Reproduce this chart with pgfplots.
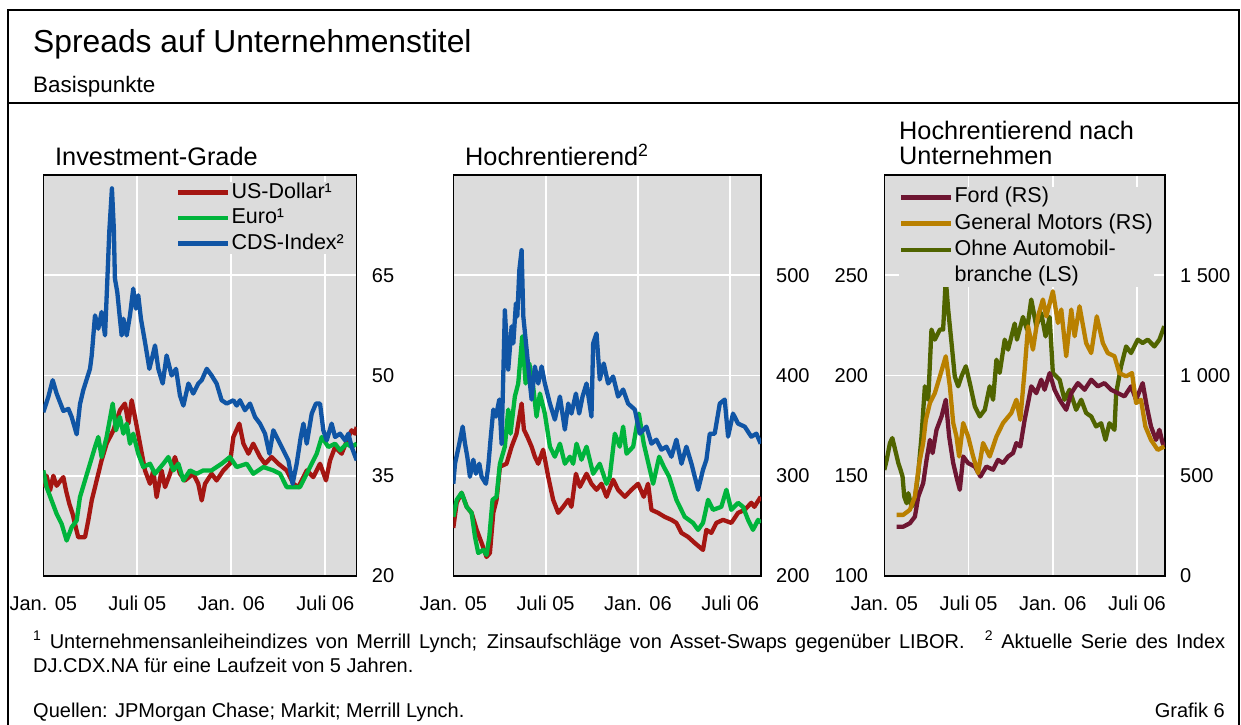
\documentclass[border=0pt]{standalone}
\usepackage{fontspec}
\setmainfont{Liberation Sans}
\usepackage{pgfplots}
\pgfplotsset{compat=1.18}

\definecolor{bisRed}{RGB}{165,22,18}
\definecolor{bisGreen}{RGB}{0,180,60}
\definecolor{bisBlue}{RGB}{16,85,165}
\definecolor{bisFord}{RGB}{110,22,50}
\definecolor{bisGM}{RGB}{185,128,0}
\definecolor{bisOlive}{RGB}{80,100,0}
\definecolor{panelGray}{RGB}{220,220,220}

% one panel: months since Jan. 2005 on x
\pgfplotsset{
  bispanel/.style={
    scale only axis, height=401pt, anchor=south west,
    xmin=0, xmax=20,
    xtick={0,6,12,18}, xticklabels={Jan. 05,Juli 05,Jan. 06,Juli 06},
    axis background/.style={fill=panelGray},
    grid=major, major grid style={white, line width=1.8pt},
    major tick length=0pt,
    axis line style={black, line width=1.2pt},
    tick label style={font=\fontsize{20}{24}\selectfont},
    xticklabel style={inner sep=0pt, anchor=north, yshift=-20pt},
    /pgf/number format/assume math mode=true,
    every axis plot/.append style={line width=4.3pt, line join=round, mark=none},
    legend cell align=left,
    legend image code/.code={\draw[##1, line width=4.5pt] (0pt,0pt) -- (50pt,0pt);},
    legend style={draw=none, fill=panelGray, anchor=north west, inner sep=0pt,
      font=\fontsize{21.5}{25}\selectfont,
      nodes={inner sep=1pt, text height=15pt, text depth=4pt}},
  },
  rightlabels/.style={yticklabel pos=right,
    yticklabel style={anchor=west, inner sep=0pt, xshift=15pt}},
}

\begin{document}
\begin{tikzpicture}
\path[use as bounding box] (0pt,0pt) rectangle (1241pt,724pt);

% frame
\draw[line width=2pt] (8pt,-5pt) -- (8pt,714pt) -- (1239pt,714pt) -- (1239pt,-5pt);
\draw[line width=2pt] (8pt,621pt) -- (1239pt,621pt);
\node[anchor=base west, inner sep=0pt, font=\fontsize{31.8}{38}\selectfont] at (33pt,671pt) {Spreads auf Unternehmenstitel};
\node[anchor=base west, inner sep=0pt, font=\fontsize{22.4}{26}\selectfont] at (33pt,631pt) {Basispunkte};

% panel titles
\begin{scope}[every node/.style={anchor=base west, inner sep=0pt, font=\fontsize{25.3}{30}\selectfont}]
\node at (55pt,558pt) {Investment-Grade};
\node at (465pt,558pt) {Hochrentierend\textsuperscript{2}};
\node at (899pt,584pt) {Hochrentierend nach};
\node at (899pt,559pt) {Unternehmen};
\end{scope}

% ---- Investment-Grade
\begin{axis}[bispanel, rightlabels, at={(43.3pt,148pt)}, width=313.4pt,
  ymin=20, ymax=80, ytick={20,35,50,65},
  legend style={at={(axis description cs:0.423,0.983)}, row sep=4.5pt}]
\addplot[bisRed] coordinates {
(0,33.3)(0.21,35)(0.43,32.8)(0.64,35)(0.85,33.5)(1.28,34.8)(1.45,32.8)(1.66,30.8)
(1.87,29.3)(2.02,27.8)(2.23,25.8)(2.66,25.8)(2.87,28.3)(3.09,31.3)(3.30,33.3)(3.51,35.3)
(3.72,37.3)(4.04,39.8)(4.47,41.8)(4.89,44.8)(5.21,45.8)(5.43,42.8)(5.64,46.3)(5.85,43.8)
(6.17,39.8)(6.49,35.8)(6.81,33.8)(7.02,35.8)(7.23,31.8)(7.55,35.8)(7.77,33.3)(8.09,35.3)
(8.40,37.8)(8.72,35.3)(9.04,34.3)(9.57,35.3)(9.89,33.8)(10.11,31.3)(10.32,33.8)(10.74,35.3)
(11.06,34.3)(11.49,35.8)(11.91,36.8)(12.13,40.8)(12.51,42.8)(12.77,39.8)(13.09,38.3)(13.40,39.8)
(13.83,37.8)(14.15,36.8)(14.57,37.8)(15.00,36.8)(15.53,35.8)(15.96,33.8)(16.28,33.3)(16.81,35.8)
(17.23,34.8)(17.66,36.8)(18.04,34.3)(18.30,37.3)(18.62,39.3)(19.04,38.3)(19.47,40.8)(19.68,41.8)
(19.89,41.3)(20.0,42.3)};
\addlegendentry{US-Dollar¹}
\addplot[bisGreen] coordinates {
(0,35.8)(0.21,33.3)(0.53,31.3)(0.85,29.3)(1.17,27.8)(1.49,25.3)(1.81,27.3)(2.13,28.3)
(2.34,31.8)(2.66,34.3)(2.98,36.8)(3.30,39.3)(3.51,40.8)(3.72,37.8)(4.04,40.8)(4.43,45.8)
(4.64,41.8)(4.89,43.8)(5.11,41.3)(5.32,42.8)(5.53,39.8)(5.74,41.3)(6.06,38.3)(6.38,36.3)
(6.81,36.8)(7.13,35.3)(7.66,36.8)(7.98,37.8)(8.30,35.8)(8.62,36.8)(8.94,34.3)(9.36,35.8)
(9.79,35.3)(10.21,35.8)(10.74,35.8)(11.38,36.8)(11.91,37.8)(12.34,36.3)(12.98,36.8)(13.40,35.3)
(14.04,36.3)(14.68,35.8)(15.11,35.3)(15.53,33.3)(16.38,33.3)(16.81,35.3)(17.13,36.8)(17.45,38.3)
(17.77,40.8)(18.19,39.3)(18.62,39.8)(18.94,38.8)(19.36,39.8)(19.68,39.3)(20.0,39.8)};
\addlegendentry{Euro¹}
\addplot[bisBlue] coordinates {
(0,44.5)(0.32,46.8)(0.60,49.3)(0.85,47.3)(1.28,44.7)(1.60,45)(1.81,43.8)(2.13,41.2)
(2.34,45.7)(2.55,47.8)(2.98,51)(3.09,53)(3.30,59)(3.51,57)(3.72,59.5)(3.94,56)
(4.09,64.5)(4.21,71.5)(4.38,78)(4.50,72)(4.57,64.5)(4.72,62.5)(4.89,58.5)(5.00,56)
(5.11,58.5)(5.32,56)(5.53,59)(5.74,63)(5.91,60)(6.06,62)(6.23,58.5)(6.49,55)
(6.77,51)(6.98,53)(7.13,54.5)(7.34,51)(7.62,48.8)(7.87,53)(8.19,50)(8.47,51)
(8.72,47)(8.94,45.5)(9.26,48.8)(9.57,47.3)(9.89,48.8)(10.11,49.3)(10.43,51)(10.74,50)
(11.06,48.8)(11.38,46.3)(11.70,45.8)(12.13,46.3)(12.34,45.5)(12.55,46.3)(12.87,44.8)(13.19,45.8)
(13.51,43.8)(13.83,42.8)(14.15,41.3)(14.43,38.3)(14.68,41.8)(15.00,40.3)(15.32,38.8)(15.64,37.3)
(15.91,33.8)(16.17,36.8)(16.43,40.8)(16.60,42.8)(16.81,39.8)(17.13,44.3)(17.40,45.8)(17.66,45.8)
(17.87,41.8)(18.09,40.3)(18.40,42.8)(18.62,40.8)(18.94,41.3)(19.26,40.3)(19.47,41.3)(19.68,39.3)
(20.0,37.3)};
\addlegendentry{CDS-Index²}
\end{axis}

% ---- Hochrentierend
\begin{axis}[bispanel, rightlabels, at={(453.3pt,148pt)}, width=307.7pt,
  ymin=200, ymax=600, ytick={200,300,400,500}]
\addplot[bisRed] coordinates {
(0,248)(0.22,273)(0.54,283)(0.87,269)(1.19,263)(1.52,246)(1.84,233)(2.16,219)
(2.38,223)(2.60,263)(2.81,276)(3.03,309)(3.46,312)(3.79,329)(4.11,342)(4.44,372)
(4.59,346)(4.81,339)(5.09,329)(5.30,319)(5.52,312)(5.84,326)(6.17,299)(6.49,276)
(6.82,263)(7.14,269)(7.47,276)(7.68,269)(7.97,302)(8.23,289)(8.66,302)(8.98,292)
(9.31,286)(9.63,292)(9.96,279)(10.39,296)(10.71,286)(11.15,279)(11.58,286)(12.01,292)
(12.38,279)(12.66,292)(12.88,266)(13.31,263)(13.74,259)(14.18,256)(14.50,253)(14.83,243)
(15.26,239)(15.69,233)(16.23,226)(16.45,246)(16.77,243)(17.10,253)(17.53,256)(18.07,253)
(18.51,263)(18.94,266)(19.37,273)(19.57,269)(19.98,279)};
\addplot[bisGreen] coordinates {
(0,259)(0.22,276)(0.54,283)(0.87,269)(1.19,263)(1.41,239)(1.62,223)(1.95,226)
(2.16,221)(2.34,239)(2.55,276)(2.81,279)(3.03,312)(3.35,329)(3.57,366)(3.72,342)
(4.00,379)(4.22,392)(4.48,439)(4.70,392)(4.94,412)(5.19,389)(5.41,359)(5.63,382)
(5.95,362)(6.28,329)(6.60,319)(6.93,332)(7.25,312)(7.58,319)(7.79,312)(8.01,332)
(8.33,316)(8.66,329)(9.09,302)(9.52,312)(9.96,292)(10.17,299)(10.50,342)(10.82,329)
(11.04,349)(11.26,322)(11.69,329)(12.06,362)(12.38,332)(12.99,292)(13.38,319)(13.68,309)
(14.03,299)(14.50,276)(15.04,259)(15.58,253)(15.91,246)(16.23,253)(16.56,276)(16.88,266)
(17.42,269)(17.75,286)(18.07,266)(18.51,273)(18.83,269)(19.16,256)(19.48,246)(19.81,256)
(19.98,253)};
\addplot[bisBlue] coordinates {
(0,292)(0.11,312)(0.39,332)(0.61,349)(0.76,332)(0.91,319)(1.08,299)(1.30,316)
(1.47,302)(1.69,312)(1.84,299)(2.12,292)(2.27,309)(2.42,336)(2.60,366)(2.77,359)
(2.99,376)(3.14,332)(3.35,465)(3.57,406)(3.79,449)(3.90,432)(4.07,472)(4.16,459)
(4.29,505)(4.44,525)(4.55,459)(4.81,419)(4.98,392)(5.09,376)(5.30,409)(5.52,392)
(5.74,409)(5.95,392)(6.28,372)(6.60,356)(6.93,379)(7.25,346)(7.47,372)(7.68,362)
(7.97,382)(8.18,362)(8.40,379)(8.66,392)(8.98,359)(9.09,432)(9.31,442)(9.52,396)
(9.78,412)(10.06,392)(10.39,399)(10.71,379)(11.04,386)(11.36,372)(11.80,366)(12.12,342)
(12.55,349)(12.88,332)(13.20,336)(13.53,326)(13.85,329)(14.18,319)(14.50,336)(14.83,312)
(15.15,329)(15.48,312)(15.91,286)(16.23,306)(16.45,316)(16.67,342)(16.99,342)(17.32,372)
(17.64,376)(17.86,339)(18.18,362)(18.51,352)(18.94,349)(19.37,339)(19.70,342)(19.98,332)};
\end{axis}

% ---- Hochrentierend nach Unternehmen, left scale
\begin{axis}[bispanel, at={(884.3pt,148pt)}, width=280.7pt,
  ymin=100, ymax=300, ytick={100,150,200,250},
  yticklabel style={anchor=east, inner sep=0pt, xshift=-16pt}]
\addplot[bisOlive] coordinates {
(0,152.9)(0.17,157.9)(0.40,166.3)(0.57,168.8)(0.83,161.3)(1.00,156.3)(1.16,152.9)(1.30,149.6)
(1.42,139.6)(1.59,136.3)(1.71,141.3)(1.94,134.6)(2.13,136.3)(2.42,151.3)(2.65,169.6)(2.89,194.6)
(3.13,187.9)(3.36,222.9)(3.60,217.9)(3.96,222.9)(4.19,222.9)(4.38,248)(4.55,232.9)(4.79,216.2)
(5.02,199.6)(5.26,194.6)(5.50,199.6)(5.81,204.6)(6.09,196.3)(6.45,184.6)(6.80,179.6)(7.16,182.9)
(7.51,194.6)(7.75,187.9)(7.99,207.9)(8.22,201.3)(8.58,217.9)(8.82,212.9)(9.29,225.9)(9.45,217.9)
(9.88,229.2)(10.17,222.9)(10.47,237.9)(10.83,224.6)(11.18,231.2)(11.49,219.5)(11.78,229.2)(12.01,201.2)
(12.49,197.9)(12.84,187.9)(13.20,192.9)(13.67,182.9)(14.03,187.9)(14.38,181.3)(14.74,179.6)(15.09,174.6)
(15.45,176.2)(15.76,167.9)(16.04,176.2)(16.40,172.9)(16.52,191.2)(16.87,204.6)(17.23,214.5)(17.58,211.2)
(18.06,217.9)(18.41,216.2)(18.77,217.9)(19.24,214.5)(19.60,217.9)(19.95,224.6)};
\end{axis}

% ---- right scale
\begin{axis}[bispanel, rightlabels, at={(884.3pt,148pt)}, width=280.7pt,
  axis background/.style={}, grid=none, xtick=\empty,
  ymin=0, ymax=2000, ytick={0,500,1000,1500}, yticklabels={0,500,1 000,1 500},
  legend style={at={(axis description cs:0.052,0.971)}, row sep=5.3pt}]
\addplot[bisFord] coordinates {
(0.88,246)(1.35,246)(1.82,263)(2.18,296)(2.42,396)(2.77,463)(3.01,579)(3.25,679)
(3.44,613)(3.72,729)(4.08,796)(4.38,879)(4.62,696)(4.91,563)(5.19,480)(5.38,430)
(5.62,596)(5.97,563)(6.45,546)(6.85,496)(7.27,546)(7.75,530)(8.10,579)(8.46,563)
(8.82,596)(9.17,613)(9.41,663)(9.69,646)(10.00,779)(10.24,863)(10.47,946)(10.83,912)
(11.18,979)(11.42,929)(11.78,1012)(12.13,929)(12.49,879)(12.96,829)(13.32,912)(13.79,962)
(14.27,929)(14.74,979)(15.21,946)(15.69,962)(16.16,929)(16.64,912)(17.11,896)(17.58,946)
(17.94,879)(18.41,962)(18.70,846)(19.00,746)(19.36,679)(19.60,729)(19.83,663)(19.95,646)};
\addlegendentry{Ford (RS)}
\addplot[bisGM] coordinates {
(0.88,305)(1.35,305)(1.82,330)(2.18,396)(2.49,563)(2.77,663)(2.96,779)(3.25,863)
(3.60,912)(3.96,996)(4.38,1096)(4.67,946)(4.91,763)(5.14,696)(5.33,596)(5.62,763)
(5.97,696)(6.33,596)(6.68,513)(7.04,663)(7.51,596)(7.99,696)(8.46,763)(9.05,813)
(9.41,879)(9.69,779)(10.00,1029)(10.24,1245)(10.59,1129)(10.95,1295)(11.30,1379)(11.54,1295)
(12.01,1420)(12.37,1262)(12.61,1329)(12.96,1096)(13.32,1329)(13.56,1196)(13.91,1345)(14.38,1162)
(14.74,1112)(15.14,1295)(15.57,1162)(15.92,1112)(16.40,1096)(16.75,1012)(17.23,996)(17.65,1012)
(17.94,863)(18.29,879)(18.60,746)(19.00,679)(19.48,629)(19.95,646)};
\addlegendentry{General Motors (RS)}
\addlegendimage{bisOlive}
\addlegendentry{Ohne Automobil-}
\addlegendimage{empty legend}
\addlegendentry{branche (LS)}
\end{axis}

% footnotes and sources
\begin{scope}[every node/.style={inner sep=0pt, font=\fontsize{20}{24}\selectfont}]
\node[anchor=base west] at (33pt,76pt) {\makebox[1192pt][s]{\textsuperscript{1}\ Unternehmensanleiheindizes von Merrill Lynch; Zinsaufschläge von Asset-Swaps gegenüber LIBOR.\quad\textsuperscript{2}\ Aktuelle Serie des Index}};
\node[anchor=base west] at (33pt,52pt) {DJ.CDX.NA für eine Laufzeit von 5 Jahren.};
\node[anchor=base west] at (33pt,7pt) {Quellen: JPMorgan Chase; Markit; Merrill Lynch.};
\node[anchor=base east] at (1225pt,7pt) {Grafik 6};
\end{scope}
\end{tikzpicture}
\end{document}
